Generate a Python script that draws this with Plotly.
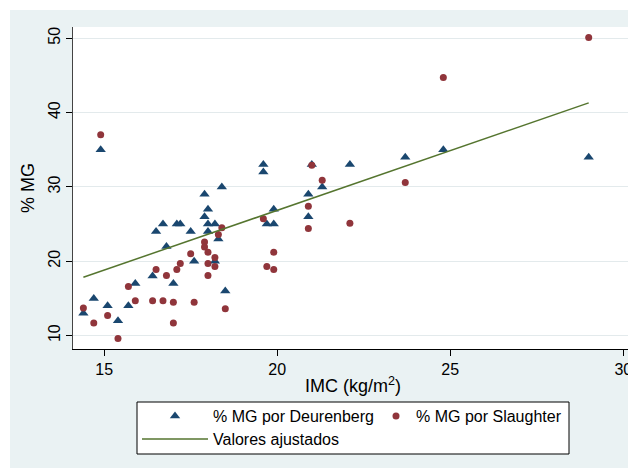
import plotly.graph_objects as go

# % MG por Deurenberg (triangles): IMC (kg/m2) and % MG
deur_x = [14.4, 14.7, 14.9, 15.1, 15.4, 15.7, 15.9, 16.4, 16.5, 16.7, 16.8, 17.0, 17.1,
          17.2, 17.5, 17.6, 17.9, 17.9, 18.0, 18.0, 18.0, 18.2, 18.3, 18.2, 18.4, 18.5,
          19.6, 19.6, 19.7, 19.9, 19.9, 20.9, 20.9, 21.0, 21.3, 22.1, 23.7, 24.8, 29.0]
deur_y = [13, 15, 35, 14, 12, 14, 17, 18, 24, 25, 22, 17, 25,
          25, 24, 20, 29, 26, 27, 25, 24, 25, 23, 20, 30, 16,
          33, 32, 25, 25, 27, 29, 26, 33, 30, 33, 34, 35, 34]

# % MG por Slaughter (dots): IMC (kg/m2) and % MG
slau_x = [14.4, 14.7, 14.9, 15.1, 15.4, 15.7, 15.9, 16.4, 16.5, 16.7, 16.8, 17.0, 17.0,
          17.1, 17.2, 17.5, 17.6, 17.9, 17.9, 18.0, 18.0, 18.0, 18.2, 18.2, 18.3, 18.4,
          18.5, 19.6, 19.7, 19.9, 19.9, 20.9, 20.9, 21.0, 21.3, 22.1, 23.7, 24.8, 29.0]
slau_y = [13.7, 11.7, 37.0, 12.7, 9.6, 16.6, 14.7, 14.7, 18.9, 14.7, 18.1, 14.5, 11.7,
          18.9, 19.7, 21.0, 14.5, 22.6, 21.9, 21.2, 19.7, 18.1, 20.5, 19.3, 23.6, 24.5,
          13.6, 25.7, 19.3, 21.2, 18.9, 27.4, 24.4, 32.9, 30.9, 25.1, 30.6, 44.7, 50.1]

# Valores ajustados (fitted line, read at its ends)
fit_x = [14.4, 29.0]
fit_y = [17.85, 41.3]

x_ticks = [15, 20, 25, 30]
y_ticks = [10, 20, 30, 40, 50]

NAVY = "#1A476F"
MAROON = "#90353B"
GREEN = "#55752F"
BG = "#EAF2F3"
FONT = "Liberation Sans, Arial, sans-serif"

# the page body adds an 8px offset; figure is laid out to compensate
OFF = 8
W, H = 636 - OFF, 468 - OFF
L, R, T, B = 73 - OFF, 3, 27 - OFF, 119
PW, PH = W - L - R, H - T - B


def px(X):
    # X in reference-window pixels -> paper fraction
    return (X - OFF - L) / PW


def py(Y):
    return (H - B - (Y - OFF)) / PH


fig = go.Figure()
fig.add_trace(go.Scatter(x=deur_x, y=deur_y, mode="markers", name="% MG por Deurenberg",
                         marker=dict(symbol="triangle-up", size=9, color=NAVY, line=dict(width=0)),
                         legend="legend"))
fig.add_trace(go.Scatter(x=slau_x, y=slau_y, mode="markers", name="% MG por Slaughter",
                         marker=dict(symbol="circle", size=7, color=MAROON, line=dict(width=0)),
                         legend="legend2"))
fig.add_trace(go.Scatter(x=fit_x, y=fit_y, mode="lines", name="Valores ajustados",
                         line=dict(color=GREEN, width=1.5), legend="legend3"))

shapes = [
    # thin white border at top and left of the light background
    dict(type="rect", xref="paper", yref="paper", x0=px(0), x1=px(10), y0=py(470), y1=py(0),
         fillcolor="white", line=dict(width=0), layer="above"),
    dict(type="rect", xref="paper", yref="paper", x0=px(0), x1=px(640), y0=py(10), y1=py(0),
         fillcolor="white", line=dict(width=0), layer="above"),
    # legend box
    dict(type="rect", xref="paper", yref="paper", x0=px(137), x1=px(569), y0=py(454), y1=py(402),
         fillcolor="white", line=dict(color="black", width=1), layer="above"),
]

leg_common = dict(bgcolor="rgba(0,0,0,0)", borderwidth=0, font=dict(family=FONT, size=16, color="black"),
                  orientation="v", xanchor="left", yanchor="middle")

fig.update_layout(
    width=W, height=H,
    margin=dict(l=L, r=R, t=T, b=B, pad=0, autoexpand=False),
    paper_bgcolor=BG,
    plot_bgcolor="white",
    font=dict(family=FONT, size=16, color="black"),
    shapes=shapes,
    showlegend=True,
    legend=dict(x=px(137), y=py(416), itemwidth=66, **leg_common),
    legend2=dict(x=px(376), y=py(416), itemwidth=30, **leg_common),
    legend3=dict(x=px(137), y=py(439), itemwidth=66, **leg_common),
    xaxis=dict(range=[14.1, 30.28], tickvals=x_ticks, ticks="outside", ticklen=6, tickcolor="black",
               showline=True, linecolor="black", linewidth=1, showgrid=False, zeroline=False,
               tickfont=dict(size=16), automargin=False,
               title=dict(text="IMC (kg/m<sup>2</sup>)", font=dict(size=18), standoff=2)),
    yaxis=dict(range=[8.2, 51.5], tickvals=y_ticks, ticks="outside", ticklen=6, tickcolor="black",
               tickangle=-90, automargin=False,
               showline=True, linecolor="#444444", linewidth=1, showgrid=True, gridcolor="#E3EAEC",
               gridwidth=1, zeroline=False, tickfont=dict(size=16),
               title=dict(text="% MG", font=dict(size=18), standoff=6)),
)

fig.write_html("out.html")
